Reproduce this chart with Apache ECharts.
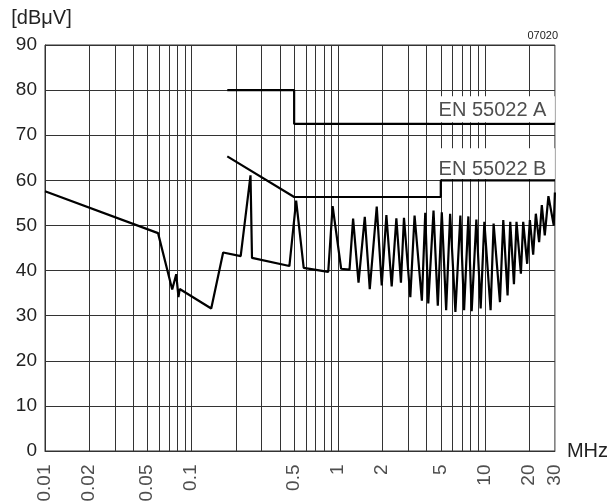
<!DOCTYPE html>
<html>
<head>
<meta charset="utf-8">
<script src="https://cdn.jsdelivr.net/npm/echarts@6/dist/echarts.min.js"></script>
<style>
  html, body { margin: 0; padding: 0; background: #fff; }
  #chart { width: 611px; height: 504px; }
</style>
</head>
<body>
<div id="chart"></div>
<script>
// measured noise spectrum (MHz / dBuV)
var noiseFreq = [0.01, 0.059, 0.0737, 0.0785, 0.0813, 0.0829, 0.136, 0.164, 0.216, 0.252, 0.258, 0.464,
    0.516, 0.581, 0.854, 0.915, 1.046, 1.193, 1.262, 1.374, 1.516, 1.639, 1.829, 1.978, 2.128, 2.313,
    2.489, 2.675, 2.805, 3.099, 3.313, 3.715, 3.918, 4.108, 4.461, 4.771, 5.08, 5.44, 5.79, 6.29, 6.8,
    7.21, 7.71, 8.12, 8.74, 9.35, 9.91, 10.93, 11.46, 12.66, 13.34, 14.27, 14.88, 15.77, 16.42, 17.59,
    18.24, 19.41, 20.25, 21.33, 22.24, 23.42, 24.43, 25.59, 27.1, 29.48, 30];
var noiseLevel = [57.6, 48.3, 35.8, 39.2, 34.1, 35.9, 31.6, 44.0, 43.2, 61.1, 42.8, 41.0,
    55.5, 40.6, 39.7, 54.3, 40.4, 40.2, 51.5, 37.3, 51.9, 35.9, 54.2, 36.7, 52.3, 36.5,
    51.6, 37.3, 51.7, 34.1, 52.2, 33.3, 52.8, 32.7, 53.3, 32.2, 52.9, 31.2, 52.6, 30.8, 52.2,
    31.2, 52.0, 31.0, 51.3, 31.6, 50.8, 31.2, 50.4, 33.0, 51.2, 34.5, 50.8, 37.0, 50.8, 39.3,
    50.8, 41.5, 51.2, 43.5, 52.6, 46.3, 54.5, 47.8, 56.5, 50.0, 57.3];

// limit lines
var limitAName = 'EN 55022 A';
var limitAFreq = [0.175, 0.5, 0.5, 30];
var limitALevel = [80, 80, 72.5, 72.5];
var limitBName = 'EN 55022 B';
var limitBFreq = [0.175, 0.5, 5, 5, 30];
var limitBLevel = [65.3, 56.3, 56.3, 60, 60];

// axis ticks
var tickFreq = [0.01, 0.02, 0.05, 0.1, 0.5, 1, 2, 5, 10, 20, 30];
var gridFreq = [0.02, 0.03, 0.04, 0.05, 0.06, 0.07, 0.08, 0.09,
    0.1, 0.2, 0.3, 0.4, 0.5, 0.6, 0.7, 0.8, 0.9,
    1, 2, 3, 4, 5, 6, 7, 8, 9, 10, 20];

var FONT = '"Liberation Sans", Arial, Helvetica, sans-serif';
var INK = '#222';
var GRID = '#333';

function pairs(xs, ys) {
    var out = [];
    for (var i = 0; i < xs.length; i++) {
        out.push([xs[i], ys[i]]);
    }
    return out;
}

var chart = echarts.init(document.getElementById('chart'), null, { renderer: 'canvas' });

var last = limitAFreq.length - 1;
var lastB = limitBFreq.length - 1;
var endA = [limitAFreq[last], limitALevel[last]];
var endB = [limitBFreq[lastB], limitBLevel[lastB]];

var option = {
    animation: false,
    textStyle: { fontFamily: FONT },
    title: {
        text: '07020',
        right: 53,
        top: 30,
        padding: 0,
        textStyle: { fontSize: 11, fontWeight: 'normal', color: INK, fontFamily: FONT }
    },
    grid: {
        left: 45, right: 54, top: 45, bottom: 53,
        show: true, borderColor: GRID, borderWidth: 1
    },
    xAxis: {
        type: 'log',
        logBase: 10,
        min: 0.01,
        max: 30,
        name: 'MHz',
        nameLocation: 'end',
        nameGap: 12,
        nameTextStyle: { fontSize: 20, color: INK, fontFamily: FONT },
        axisLine: { lineStyle: { color: GRID, width: 1 } },
        axisTick: { show: false },
        axisLabel: { show: false },
        splitLine: { show: false }
    },
    yAxis: {
        type: 'value',
        min: 0,
        max: 90,
        interval: 10,
        name: '[dBμV]',
        nameLocation: 'end',
        nameGap: 17,
        nameTextStyle: { fontSize: 20, color: INK, fontFamily: FONT, padding: [0, 7, 0, 0] },
        axisLine: { show: true, lineStyle: { color: GRID, width: 1 } },
        axisTick: { show: false },
        axisLabel: { fontSize: 19, color: INK, margin: 8, fontFamily: FONT },
        splitLine: { lineStyle: { color: GRID, width: 1 } }
    },
    series: [
        {
            // vertical log grid
            type: 'line',
            z: 1,
            data: [],
            silent: true,
            markLine: {
                z: 1,
                silent: true,
                symbol: 'none',
                label: { show: false },
                lineStyle: { color: GRID, width: 1, type: 'solid' },
                data: gridFreq.map(function (f) { return { xAxis: f }; })
            }
        },
        {
            name: 'noise',
            type: 'line',
            z: 3,
            showSymbol: false,
            data: pairs(noiseFreq, noiseLevel),
            lineStyle: { color: '#000', width: 2.2 },
            clip: false
        },
        {
            name: limitAName,
            type: 'line',
            z: 3,
            showSymbol: false,
            data: pairs(limitAFreq, limitALevel),
            lineStyle: { color: '#000', width: 2.2 }
        },
        {
            name: limitBName,
            type: 'line',
            z: 3,
            showSymbol: false,
            data: pairs(limitBFreq, limitBLevel),
            lineStyle: { color: '#000', width: 2.2 }
        },
        {
            // limit names
            type: 'scatter',
            zlevel: 1,
            z: 10,
            symbolSize: 1,
            clip: false,
            silent: true,
            itemStyle: { color: 'rgba(0,0,0,0)' },
            data: [
                { value: endA, label: { formatter: limitAName, offset: [-8, -13.4] } },
                { value: endB, label: { formatter: limitBName, offset: [-8, -10.5] } }
            ],
            label: {
                show: true,
                position: [0, 0],
                align: 'right',
                verticalAlign: 'middle',
                fontSize: 20,
                color: INK,
                fontFamily: FONT
            }
        },
        {
            // rotated frequency tick labels
            type: 'scatter',
            z: 10,
            symbolSize: 1,
            clip: false,
            silent: true,
            itemStyle: { color: 'rgba(0,0,0,0)' },
            data: tickFreq.map(function (f) { return [f, 0]; }),
            label: {
                show: true,
                position: [0, 0],
                rotate: 90,
                align: 'right',
                verticalAlign: 'middle',
                padding: [0, 14, 0, 0],
                fontSize: 19,
                color: INK,
                fontFamily: FONT,
                formatter: function (p) { return String(p.value[0]); }
            }
        }
    ]
};

chart.setOption(option);

// white boxes behind the limit names, hiding the grid lines there
var pA = chart.convertToPixel({ gridIndex: 0 }, endA);
var pB = chart.convertToPixel({ gridIndex: 0 }, endB);
chart.setOption({
    graphic: [
        {
            type: 'rect', z: 50, silent: true,
            shape: { x: pA[0] - 126, y: pA[1] - 27.7, width: 126, height: 26 },
            style: { fill: '#fff' }
        },
        {
            type: 'rect', z: 50, silent: true,
            shape: { x: pB[0] - 125, y: pB[1] - 32, width: 125, height: 30.7 },
            style: { fill: '#fff' }
        }
    ]
});
</script>
</body>
</html>
